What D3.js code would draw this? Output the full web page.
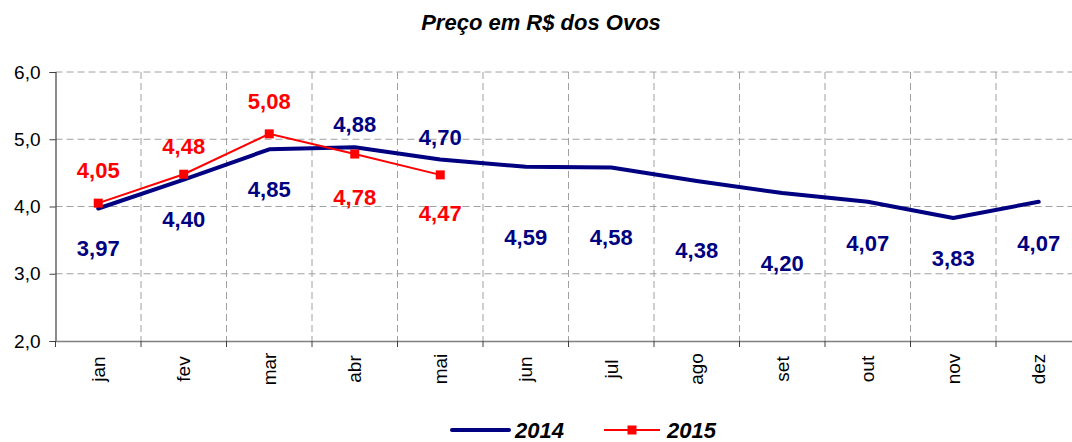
<!DOCTYPE html>
<html>
<head>
<meta charset="utf-8">
<script src="https://cdn.jsdelivr.net/npm/d3@7"></script>
<style>
  html, body { margin: 0; padding: 0; background: #fff; }
  svg { display: block; font-family: "Liberation Sans", Arial, sans-serif; }
</style>
</head>
<body>
<svg id="chart" width="1072" height="442"></svg>
<script>
// ---- data ----
const months = ["jan","fev","mar","abr","mai","jun","jul","ago","set","out","nov","dez"];
const values2014 = [3.97, 4.40, 4.85, 4.88, 4.70, 4.59, 4.58, 4.38, 4.20, 4.07, 3.83, 4.07];
const values2015 = [4.05, 4.48, 5.08, 4.78, 4.47];
const yTicks = [2, 3, 4, 5, 6];
const seriesNames = ["2014", "2015"];
const titleText = "Preço em R$ dos Ovos";

// label vertical offsets (px, relative to point) as placed in the original
const labelOffset2014 = [40, 40, 40, -23, -22, 70, 70, 69, 70, 42, 40, 42];
const labelOffset2015 = [-33, -28, -33, 43, 38];

const svg = d3.select("#chart");
const pLeft = 55.5, pRight = 1081.5, pTop = 72, pBottom = 341;

const x = d3.scaleBand().domain(months).range([pLeft, pRight]);
const y = d3.scaleLinear().domain([2, 6]).range([pBottom, pTop]);
const cx = m => x(m) + x.bandwidth() / 2;
const fmt = v => d3.format(".2f")(v).replace(".", ",");

// title
svg.append("text")
  .attr("x", 541).attr("y", 30)
  .attr("text-anchor", "middle")
  .style("font-size", "22px").style("font-weight", "bold").style("font-style", "italic")
  .attr("fill", "#000")
  .text(titleText);

// gridlines
const grid = svg.append("g");
grid.selectAll("line.h").data(yTicks.filter(t => t > 2)).join("line")
  .attr("x1", pLeft).attr("x2", pRight)
  .attr("y1", d => y(d)).attr("y2", d => y(d))
  .attr("stroke", "#a0a0a0").attr("stroke-width", 1).attr("stroke-dasharray", "7,4");
grid.selectAll("line.v").data(months.slice(1)).join("line")
  .attr("x1", d => x(d)).attr("x2", d => x(d))
  .attr("y1", pTop).attr("y2", pBottom)
  .attr("stroke", "#a0a0a0").attr("stroke-width", 1).attr("stroke-dasharray", "7,4");

// y axis
const yAxis = svg.append("g")
  .attr("transform", `translate(${pLeft},0)`)
  .call(d3.axisLeft(y).tickValues(yTicks).tickSize(6).tickPadding(9)
        .tickFormat(d => d3.format(".1f")(d).replace(".", ",")));
yAxis.select(".domain").attr("stroke", "#404040").attr("stroke-width", 1.2);
yAxis.selectAll(".tick line").attr("stroke", "#404040");
yAxis.selectAll(".tick text").style("font-size", "19px").attr("fill", "#000");

// x axis
const xAxis = svg.append("g")
  .attr("transform", `translate(0,${pBottom})`)
  .call(d3.axisBottom(x).tickSize(0).tickFormat(""));
xAxis.select(".domain").attr("stroke", "#808080").attr("stroke-width", 1.5);
xAxis.selectAll(".bt").data(months).join("line")
  .attr("x1", d => x(d)).attr("x2", d => x(d))
  .attr("y1", 0).attr("y2", 6)
  .attr("stroke", "#404040");
xAxis.selectAll(".xl").data(months).join("text")
  .attr("transform", d => `translate(${cx(d)},28) rotate(-90)`)
  .attr("text-anchor", "middle").attr("dy", "0.35em")
  .style("font-size", "19px").attr("fill", "#000")
  .text(d => d);

// lines
const line = d3.line().x(d => cx(d.m)).y(d => y(d.v));
const d2014 = values2014.map((v, i) => ({ m: months[i], v, o: labelOffset2014[i] }));
const d2015 = values2015.map((v, i) => ({ m: months[i], v, o: labelOffset2015[i] }));

svg.append("path").datum(d2014)
  .attr("d", line).attr("fill", "none")
  .attr("stroke", "#000080").attr("stroke-width", 4).attr("stroke-linejoin", "round").attr("stroke-linecap", "round");

svg.append("path").datum(d2015)
  .attr("d", line).attr("fill", "none")
  .attr("stroke", "#ff0000").attr("stroke-width", 2);

svg.selectAll("rect.m15").data(d2015).join("rect")
  .attr("x", d => cx(d.m) - 4.5).attr("y", d => y(d.v) - 4.5)
  .attr("width", 9).attr("height", 9).attr("fill", "#ff0000");

// data labels
svg.selectAll("text.l14").data(d2014).join("text")
  .attr("x", d => cx(d.m)).attr("y", d => y(d.v) + d.o)
  .attr("text-anchor", "middle").attr("dy", "0.35em")
  .style("font-size", "22px").style("font-weight", "bold")
  .attr("fill", "#000080").text(d => fmt(d.v));
svg.selectAll("text.l15").data(d2015).join("text")
  .attr("x", d => cx(d.m)).attr("y", d => y(d.v) + d.o)
  .attr("text-anchor", "middle").attr("dy", "0.35em")
  .style("font-size", "22px").style("font-weight", "bold")
  .attr("fill", "#ff0000").text(d => fmt(d.v));

// legend
const lg = svg.append("g");
lg.append("line").attr("x1", 452).attr("x2", 509).attr("y1", 430).attr("y2", 430)
  .attr("stroke", "#000080").attr("stroke-width", 4).attr("stroke-linecap", "round");
lg.append("text").attr("x", 515).attr("y", 438)
  .style("font-size", "22px").style("font-weight", "bold").style("font-style", "italic")
  .text(seriesNames[0]);
lg.append("line").attr("x1", 604).attr("x2", 660).attr("y1", 430).attr("y2", 430)
  .attr("stroke", "#ff0000").attr("stroke-width", 2);
lg.append("rect").attr("x", 632 - 4.5).attr("y", 430 - 4.5).attr("width", 9).attr("height", 9).attr("fill", "#ff0000");
lg.append("text").attr("x", 667).attr("y", 438)
  .style("font-size", "22px").style("font-weight", "bold").style("font-style", "italic")
  .text(seriesNames[1]);
</script>
</body>
</html>
